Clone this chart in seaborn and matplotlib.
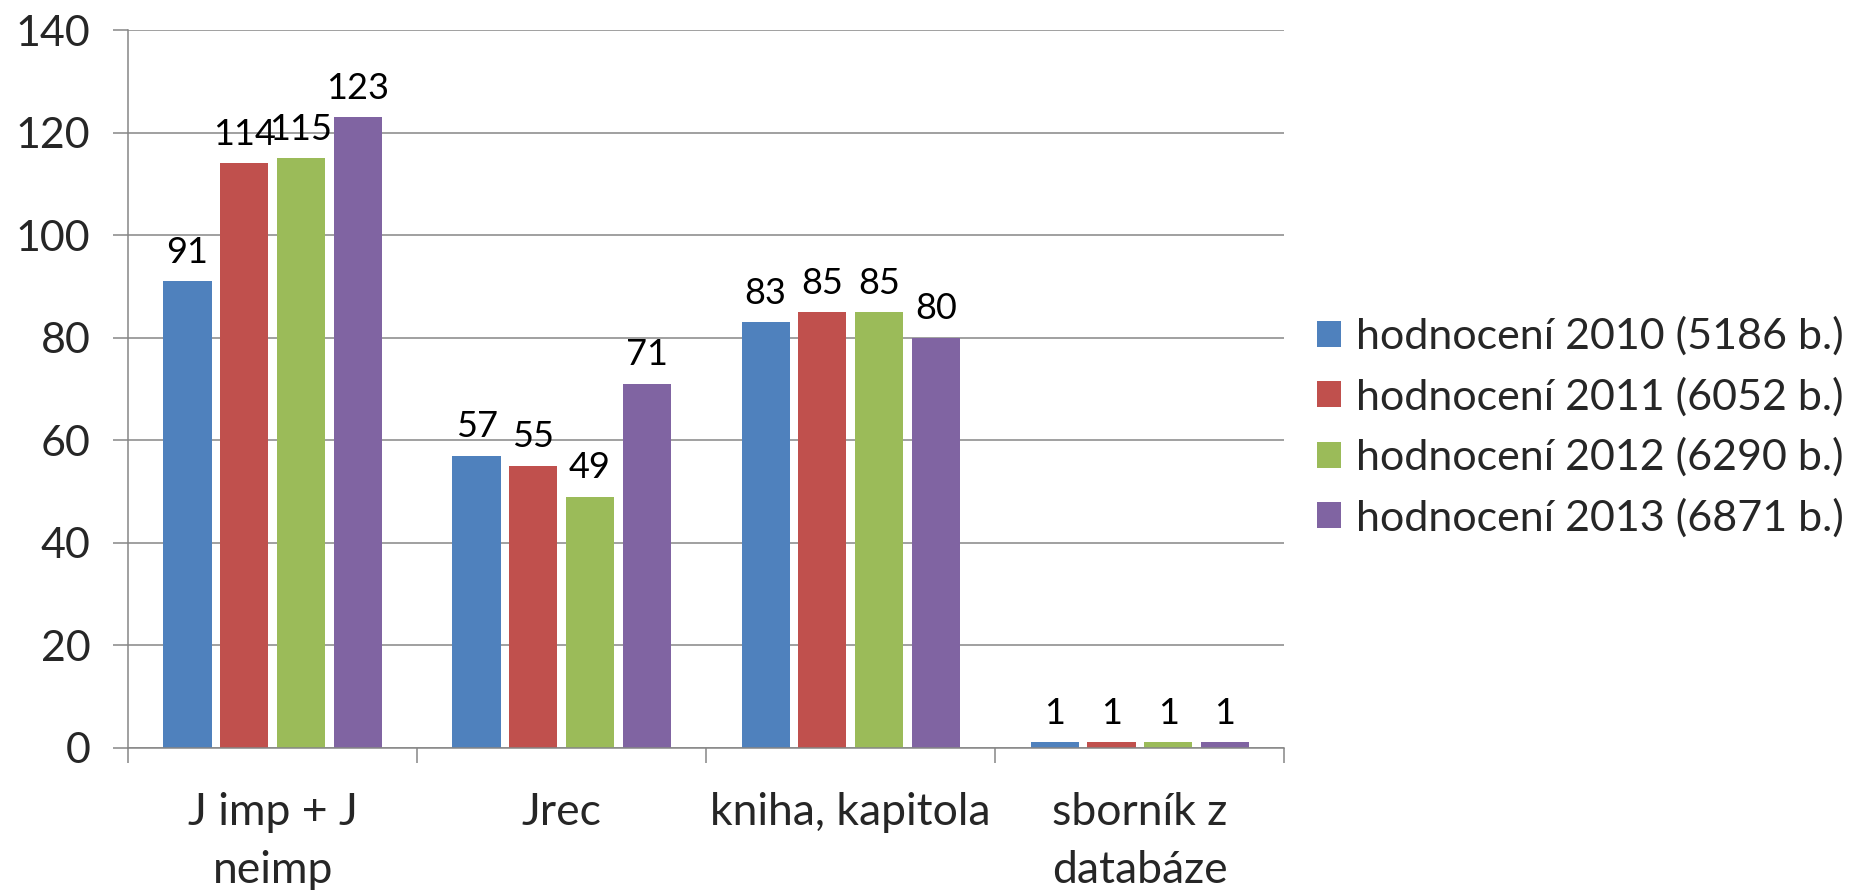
import numpy as np
import pandas as pd
import matplotlib
matplotlib.use("Agg")
import matplotlib.pyplot as plt
import seaborn as sns

# data
kategorie = ["J imp + J neimp", "Jrec", "kniha, kapitola", "sborník z databáze"]
popisky = ["J imp + J\nneimp", "Jrec", "kniha, kapitola", "sborník z\ndatabáze"]
serie = ["hodnocení 2010 (5186 b.)", "hodnocení 2011 (6052 b.)",
         "hodnocení 2012 (6290 b.)", "hodnocení 2013 (6871 b.)"]
h2010 = [91, 57, 83, 1]
h2011 = [114, 55, 85, 1]
h2012 = [115, 49, 85, 1]
h2013 = [123, 71, 80, 1]
barvy = ["#4F81BD", "#C0504D", "#9BBB59", "#8064A2"]

df = pd.DataFrame({
    "kategorie": kategorie * 4,
    "rok": [s for s in serie for _ in kategorie],
    "hodnota": h2010 + h2011 + h2012 + h2013,
})

sns.set_style("white")
plt.rcParams["font.family"] = ["Lato", "DejaVu Sans"]

fig = plt.figure(figsize=(18.56, 8.9), dpi=100)
ax = fig.add_axes([0.069, 0.160, 0.623, 0.806])

sns.barplot(data=df, x="kategorie", y="hodnota", hue="rok", order=kategorie,
            hue_order=serie, palette=barvy, saturation=1, width=0.785, gap=0.15,
            linewidth=0, errorbar=None, ax=ax)

for cont in ax.containers:
    ax.bar_label(cont, fmt="%d", padding=9, fontsize=26, color="black")

ax.set_ylim(0, 140)
ax.set_xlim(-0.5, 3.5)
ax.set_yticks(np.arange(0, 141, 20))
ax.yaxis.grid(True, color="#868686", linewidth=1.1)
ax.set_axisbelow(True)
ax.set_xlabel("")
ax.set_ylabel("")

ax.set_xticks(range(len(kategorie)))
ax.set_xticklabels(popisky, fontsize=32, linespacing=1.5)
ax.set_xticks(np.arange(-0.5, 3.6, 1), minor=True)
ax.tick_params(axis="x", which="major", length=0, pad=32)
ax.tick_params(axis="x", which="minor", length=11, width=1.1, color="#868686",
               direction="out", bottom=True)
ax.tick_params(axis="y", labelsize=31, length=11, width=1.1, color="#868686",
               direction="out", left=True, pad=16)

for s in ["top", "right"]:
    ax.spines[s].set_visible(False)
for s in ["left", "bottom"]:
    ax.spines[s].set_color("#868686")
    ax.spines[s].set_linewidth(1.1)

leg = ax.legend(loc="center left", bbox_to_anchor=(0.698, 0.52),
                bbox_transform=fig.transFigure, frameon=False, fontsize=31,
                handlelength=0.55, handleheight=0.55, handletextpad=0.35,
                labelspacing=0.49, borderpad=0)

fig.savefig("out.png", dpi=100)
